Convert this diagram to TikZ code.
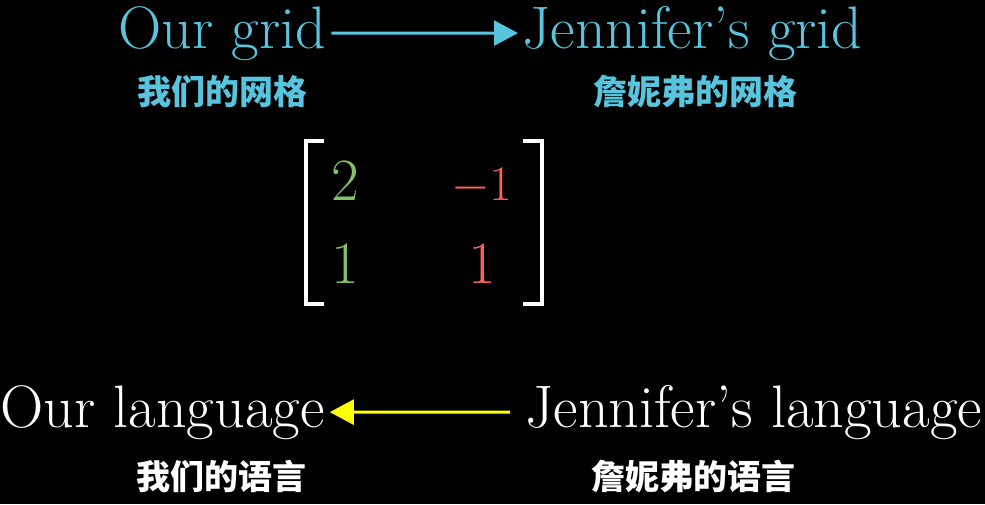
\documentclass[tikz,border=0pt]{standalone}
\usepackage{fontspec}
\newfontfamily\cjk{Noto Sans CJK SC}
\usetikzlibrary{positioning, arrows.meta}
\definecolor{gridblue}{HTML}{58C4DD}
\definecolor{ihatgreen}{HTML}{83C167}
\definecolor{jhatred}{HTML}{FC6255}
\definecolor{langyellow}{HTML}{FFFF00}

\begin{document}
\begin{tikzpicture}[
        x=0.5pt, y=-0.5pt,
        title/.style={inner sep=0pt, anchor=base west, font=\fontsize{30}{33}\selectfont},
        zhtitle/.style={inner sep=0pt, font=\cjk\bfseries\fontsize{17}{20}\selectfont},
        entry/.style={inner sep=0pt, anchor=base, font=\fontsize{30}{33}\selectfont},
        bracket/.style={white, line width=1.75pt},
        arrow/.style={line width=1.5pt, -{Triangle[length=12pt, width=12.5pt]}}
    ]
    \fill[black] (0,0) rectangle (985,504);

    \node[title, text=gridblue] (ourgrid) at (118,48) {Our grid};
    \node[title, text=gridblue] (jengrid) at (522,48) {Jennifer's grid};
    \node[zhtitle, text=gridblue] (ourgridzh) at (222,92) {我们的网格};
    \node[zhtitle, text=gridblue] (jengridzh) at (695,92) {詹妮弗的网格};

    \draw[arrow, gridblue, shorten <=2.5pt, shorten >=2pt] (ourgrid) -- (jengrid);

    % change of basis matrix
    \draw[bracket] (324,141) -- (306,141) -- (306,304) -- (324,304);
    \draw[bracket] (523,141) -- (542,141) -- (542,304) -- (523,304);
    \node[entry, text=ihatgreen] (a11) at (345,200) {2};
    \node[entry, text=jhatred] (a12) at (482,200) {$-1$};
    \node[entry, text=ihatgreen] (a21) at (345,283) {1};
    \node[entry, text=jhatred] (a22) at (482,283) {1};

    \node[title, text=white] (ourlang) at (0,427) {Our language};
    \node[title, text=white] (jenlang) at (525,427) {Jennifer's language};
    \node[zhtitle, text=white] (ourlangzh) at (221,477) {我们的语言};
    \node[zhtitle, text=white] (jenlangzh) at (693,477) {詹妮弗的语言};

    \draw[arrow, langyellow, shorten <=7.5pt, shorten >=2.5pt] (jenlang) -- (ourlang);
\end{tikzpicture}
\end{document}
